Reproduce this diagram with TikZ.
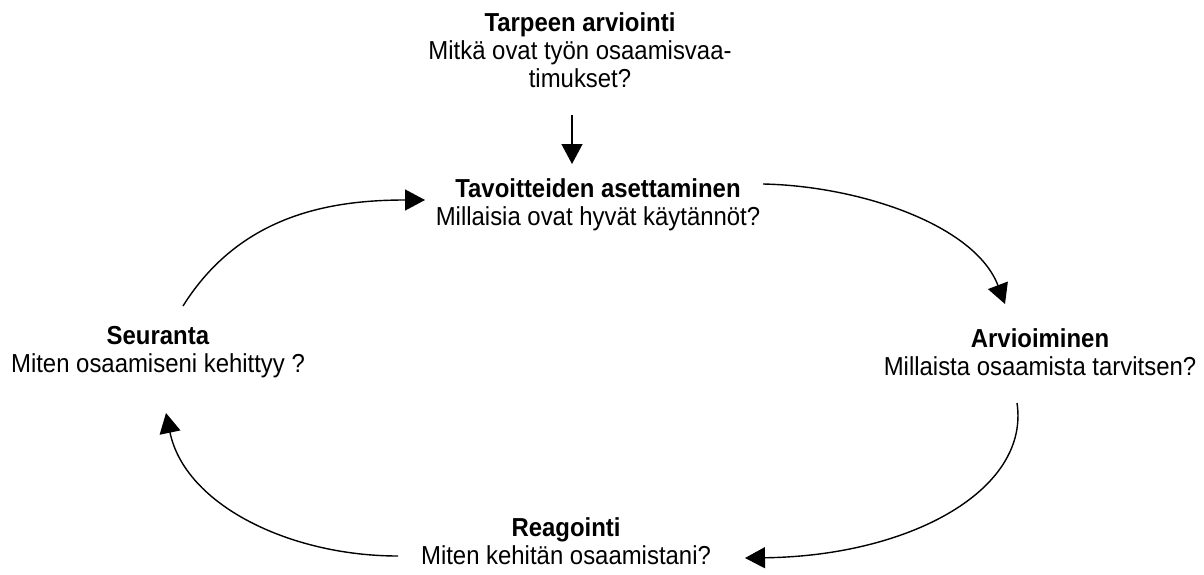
\documentclass[tikz,border=0pt]{standalone}
\usepackage{fontspec}
\setmainfont[FakeStretch=0.92]{Liberation Sans}
\usetikzlibrary{arrows.meta}
\begin{document}
\begin{tikzpicture}[x=1pt,y=-1pt,
  lbl/.style={align=center,inner sep=0pt,font=\fontsize{26}{28}\selectfont},
  conn/.style={line width=1.4pt,-{Triangle[length=20pt,width=21pt]}}]
\useasboundingbox (0,0) rectangle (1204,575);
\node[lbl] (tarve) at (580,50) {\textbf{Tarpeen arviointi}\\Mitkä ovat työn osaamisvaa-\\timukset?};
\node[lbl] (tavoite) at (598,205) {\textbf{Tavoitteiden asettaminen}\\Millaisia ovat hyvät käytännöt?};
\node[lbl] (arvio) at (1040,352) {\textbf{Arvioiminen}\\Millaista osaamista tarvitsen?};
\node[lbl] (seur) at (158,352) {\textbf{Seuranta}\\Miten osaamiseni kehittyy ?};
\node[lbl] (reag) at (566,541) {\textbf{Reagointi}\\Miten kehitän osaamistani?};
\coordinate (t0) at (572,115);
\coordinate (t1) at (572,164);
\coordinate (a0) at (763,184);
\coordinate (a1) at (1005,304);
\coordinate (b0) at (1017,403);
\coordinate (b1) at (745,558);
\coordinate (c0) at (398,556);
\coordinate (c1) at (166,413);
\coordinate (d0) at (183,306);
\coordinate (d1) at (425,200);
\draw[conn] (t0) -- (t1);
\draw[conn] (a0) .. controls (860,186) and (975,225) .. (a1);
\draw[conn] (b0) .. controls (1030,490) and (910,556) .. (b1);
\draw[conn] (c0) .. controls (290,556) and (185,505) .. (c1);
\draw[conn] (d0) .. controls (240,215) and (330,200) .. (d1);
\end{tikzpicture}
\end{document}
